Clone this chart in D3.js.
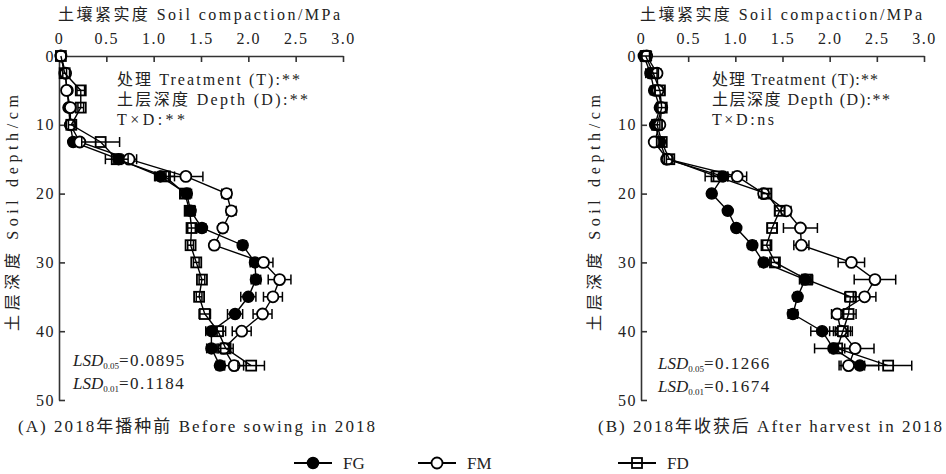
<!DOCTYPE html>
<meta charset="utf-8">
<style>
body { margin: 0; background: #fff; }
svg { display: block; }
text { font-family: "Liberation Serif", "Noto Sans CJK SC", serif; fill: #222; }
.axis path, .axis line { stroke: #333; stroke-width: 1.6px; }
.axis text { font-size: 16px; letter-spacing: 1.5px; font-family: "Liberation Serif", serif; }
</style>
<html>
  <head>
    <script src="https://cdn.jsdelivr.net/npm/d3@7"></script>
  </head>
  <body>
    <script>
var width = 946, height = 474;

// depths (cm)
var depths = [0, 2.5, 5, 7.5, 10, 12.5, 15, 17.5, 20, 22.5, 25, 27.5, 30, 32.5, 35, 37.5, 40, 42.5, 45];
var xTicks = [0, 0.5, 1.0, 1.5, 2.0, 2.5, 3.0];
var yTicks = [0, 10, 20, 30, 40, 50];
var seriesNames = ["FG", "FM", "FD"];

// (A) before sowing
var aFG = [0.02, 0.06, 0.09, 0.10, 0.12, 0.15, 0.63, 1.07, 1.35, 1.39, 1.51, 1.94, 2.07, 2.08, 2.00, 1.86, 1.61, 1.61, 1.70];
var aFM = [0.02, 0.07, 0.08, 0.12, 0.12, 0.22, 0.74, 1.34, 1.77, 1.82, 1.73, 1.64, 2.16, 2.33, 2.26, 2.15, 1.93, 1.74, 1.85];
var aFD = [0.02, 0.06, 0.23, 0.23, 0.13, 0.44, 0.61, 1.12, 1.33, 1.38, 1.40, 1.39, 1.45, 1.51, 1.48, 1.54, 1.68, 1.76, 2.03];
var aFGerr = [0, 0.02, 0.02, 0.02, 0.02, 0.03, 0.05, 0.06, 0.05, 0.05, 0.04, 0.04, 0.05, 0.05, 0.08, 0.08, 0.06, 0.05, 0.04];
var aFMerr = [0, 0.02, 0.02, 0.02, 0.02, 0.03, 0.08, 0.18, 0.05, 0.05, 0.04, 0.04, 0.10, 0.12, 0.10, 0.10, 0.10, 0.06, 0.10];
var aFDerr = [0, 0.02, 0.04, 0.03, 0.03, 0.20, 0.12, 0.10, 0.05, 0.05, 0.04, 0.03, 0.03, 0.03, 0.03, 0.06, 0.08, 0.08, 0.14];

// (B) after harvest
var bFG = [0.03, 0.10, 0.14, 0.20, 0.15, 0.20, 0.27, 0.87, 0.75, 0.92, 1.01, 1.18, 1.30, 1.74, 1.66, 1.61, 1.92, 2.04, 2.32];
var bFM = [0.06, 0.17, 0.18, 0.22, 0.20, 0.14, 0.28, 1.02, 1.30, 1.54, 1.69, 1.70, 2.23, 2.48, 2.37, 2.08, 2.12, 2.27, 2.20];
var bFD = [0.05, 0.13, 0.20, 0.22, 0.17, 0.22, 0.30, 0.80, 1.33, 1.47, 1.39, 1.33, 1.42, 1.76, 2.22, 2.20, 2.14, 2.08, 2.62];
var bFGerr = [0.03, 0.05, 0.04, 0.03, 0.03, 0.03, 0.04, 0.10, 0.03, 0.03, 0.03, 0.04, 0.04, 0.06, 0.04, 0.05, 0.12, 0.20, 0.20];
var bFMerr = [0.05, 0.04, 0.04, 0.03, 0.03, 0.03, 0.04, 0.10, 0.05, 0.05, 0.18, 0.08, 0.14, 0.22, 0.12, 0.06, 0.12, 0.20, 0.10];
var bFDerr = [0.04, 0.04, 0.05, 0.04, 0.03, 0.03, 0.03, 0.12, 0.05, 0.05, 0.05, 0.04, 0.04, 0.06, 0.06, 0.08, 0.08, 0.08, 0.25];

var xTitle = "土壤紧实度 Soil compaction/MPa";
var yTitle = "土层深度 Soil depth/cm";
var statsA = ["处理 Treatment (T):**", "土层深度 Depth (D):**", "T×D:**"];
var statsB = ["处理 Treatment (T):**", "土层深度 Depth (D):**", "T×D:ns"];
var lsdA = ["0.0895", "0.1184"];
var lsdB = ["0.1266", "0.1674"];
var captions = ["(A) 2018年播种前 Before sowing in 2018", "(B) 2018年收获后 After harvest in 2018"];

var panels = [
  {x0: 59, x1: 343, vals: [aFG, aFM, aFD], errs: [aFGerr, aFMerr, aFDerr], stats: statsA, statX: 117, statW: [183, 191, 68], lsd: lsdA, lsdX: 73, lsdY: 360, cap: captions[0], capX: 18, capW: 357, titleX: 199, yTitleX: 12},
  {x0: 641, x1: 924, vals: [bFG, bFM, bFD], errs: [bFGerr, bFMerr, bFDerr], stats: statsB, statX: 712, statW: [166, 178, 62], lsd: lsdB, lsdX: 658, lsdY: 363, cap: captions[1], capX: 598, capW: 344, titleX: 781, yTitleX: 594}
];

var svg = d3.select("body").append("svg")
    .attr("width", width)
    .attr("height", height);

var y = d3.scaleLinear().domain([0, 50]).range([56, 400]);

function marker(g, kind, cx, cy) {
  if (kind === "FG") {
    g.append("circle").attr("cx", cx).attr("cy", cy).attr("r", 5.5)
      .attr("fill", "#000").attr("stroke", "#000").attr("stroke-width", 1.5);
  } else if (kind === "FM") {
    g.append("circle").attr("cx", cx).attr("cy", cy).attr("r", 5.5)
      .attr("fill", "#fff").attr("stroke", "#000").attr("stroke-width", 1.8);
  } else {
    g.append("rect").attr("x", cx - 5).attr("y", cy - 5).attr("width", 10).attr("height", 10)
      .attr("fill", "none").attr("stroke", "#000").attr("stroke-width", 1.8);
  }
}

panels.forEach(function(p) {
  var x = d3.scaleLinear().domain([0, 3]).range([p.x0, p.x1]);

  // axes
  svg.append("g").attr("class", "axis")
      .attr("transform", "translate(0," + y(0) + ")")
      .call(d3.axisTop(x).tickValues(xTicks).tickSizeInner(-6).tickSizeOuter(0)
        .tickPadding(12).tickFormat(function(d) { return d === 0 ? "0" : d3.format(".1f")(d); }));
  svg.append("g").attr("class", "axis")
      .attr("transform", "translate(" + x(0) + ",0)")
      .call(d3.axisLeft(y).tickValues(yTicks).tickSizeInner(-6).tickSizeOuter(0).tickPadding(4));

  svg.append("text").attr("x", p.titleX).attr("y", 20)
      .attr("text-anchor", "middle").attr("font-size", 16)
      .attr("textLength", 282).text(xTitle);

  svg.append("text")
      .attr("transform", "translate(" + (p.yTitleX + 6) + ",213) rotate(-90)")
      .attr("text-anchor", "middle").attr("font-size", 16)
      .attr("textLength", 236).text(yTitle);

  // series
  seriesNames.forEach(function(name, si) {
    var vals = p.vals[si], errs = p.errs[si];
    var pts = depths.map(function(d, i) { return {d: d, v: vals[i], e: errs[i]}; });
    var g = svg.append("g");
    g.append("path").datum(pts)
      .attr("fill", "none").attr("stroke", "#000").attr("stroke-width", 1.4)
      .attr("d", d3.line().x(function(q) { return x(q.v); }).y(function(q) { return y(q.d); }));
    pts.forEach(function(q) {
      if (q.e > 0) {
        var l = x(q.v - q.e), r = x(q.v + q.e), cy = y(q.d);
        g.append("line").attr("x1", l).attr("x2", r).attr("y1", cy).attr("y2", cy)
          .attr("stroke", "#000").attr("stroke-width", 1.5);
        [l, r].forEach(function(ex) {
          g.append("line").attr("x1", ex).attr("x2", ex).attr("y1", cy - 5).attr("y2", cy + 5)
            .attr("stroke", "#000").attr("stroke-width", 1.5);
        });
      }
    });
    pts.forEach(function(q) { marker(g, name, x(q.v), y(q.d)); });
  });

  // statistics text
  p.stats.forEach(function(s, i) {
    svg.append("text").attr("x", p.statX).attr("y", 85 + i * 20)
      .attr("font-size", 16).attr("textLength", p.statW[i]).text(s);
  });

  ["0.05", "0.01"].forEach(function(sub, i) {
    var t = svg.append("text").attr("x", p.lsdX).attr("y", p.lsdY + 6 + i * 23).attr("font-size", 17);
    t.append("tspan").attr("font-style", "italic").text("LSD");
    t.append("tspan").attr("font-size", 9).attr("dy", 3).text(sub);
    t.append("tspan").attr("dy", -3).attr("letter-spacing", 1.5).text("=" + p.lsd[i]);
  });

  svg.append("text").attr("x", p.capX).attr("y", 432)
      .attr("font-size", 17).attr("textLength", p.capW).text(p.cap);
});

// legend
var legendX = [313, 437, 637];
seriesNames.forEach(function(name, i) {
  var g = svg.append("g");
  var cx = legendX[i], cy = 463;
  g.append("line").attr("x1", cx - 19).attr("x2", cx + 19).attr("y1", cy).attr("y2", cy)
    .attr("stroke", "#000").attr("stroke-width", 2);
  marker(g, name, cx, cy);
  g.append("text").attr("x", cx + 30).attr("y", cy + 6).attr("font-size", 17).text(name);
});
    </script>
  </body>
</html>
